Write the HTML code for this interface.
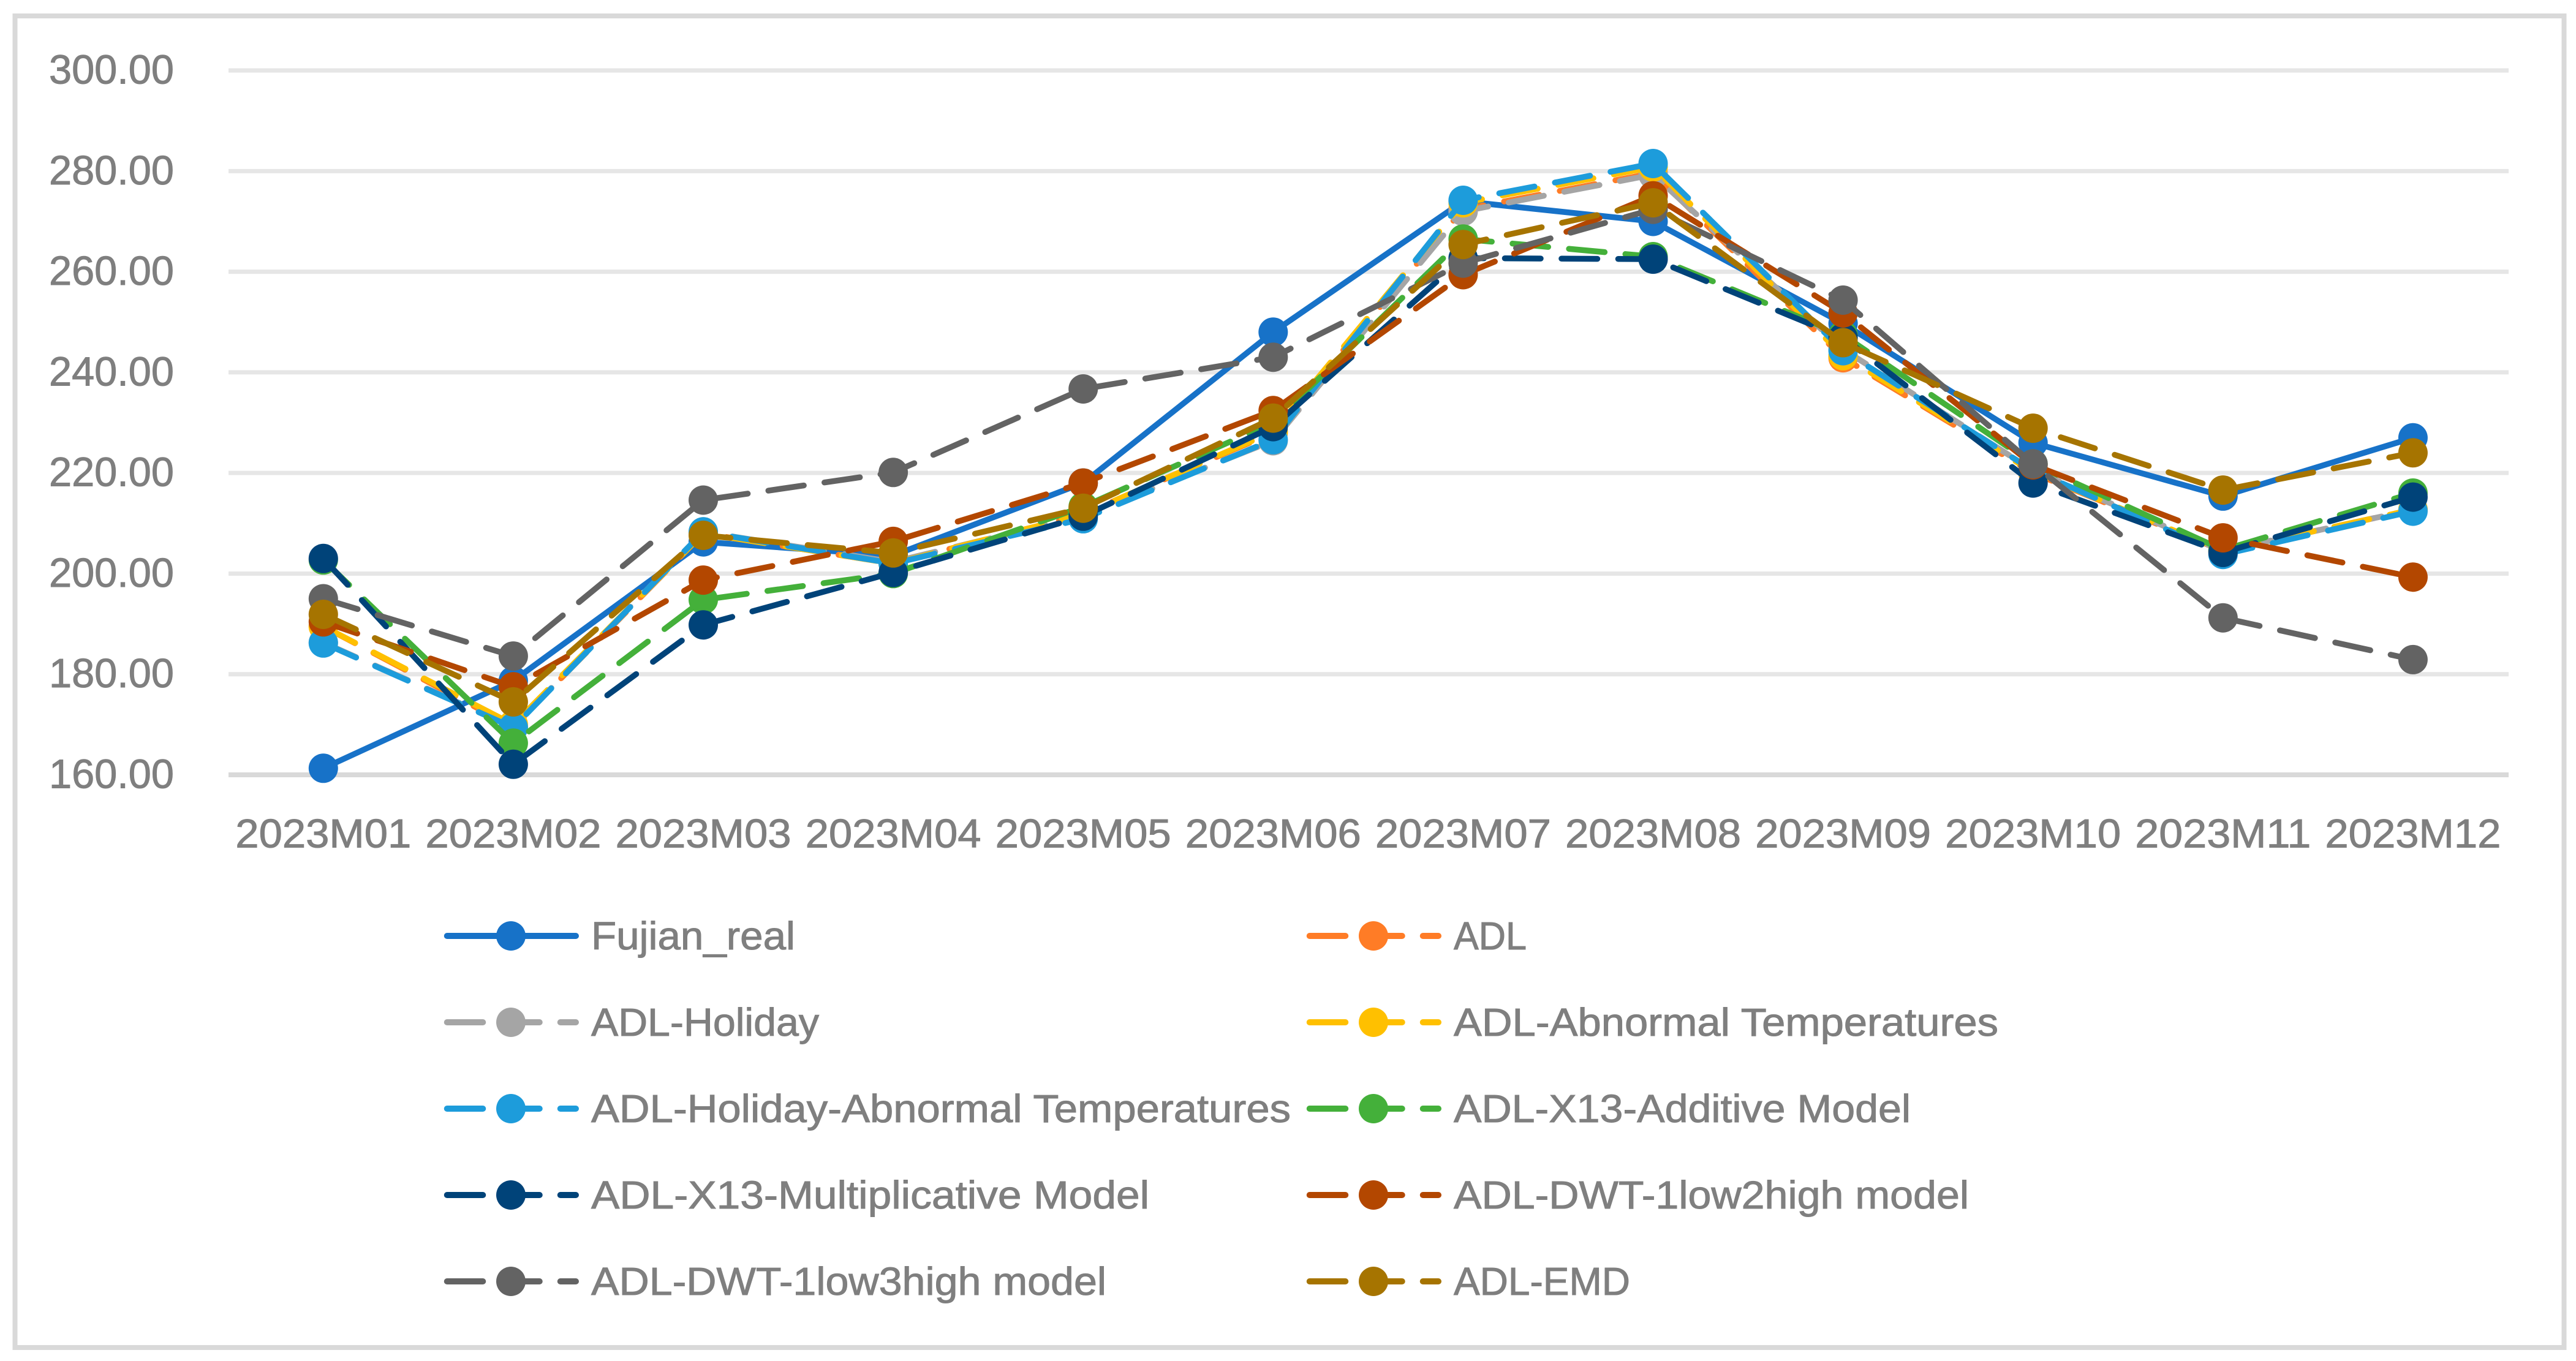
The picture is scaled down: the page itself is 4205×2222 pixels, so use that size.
<!DOCTYPE html>
<html lang="en">
<head>
<meta charset="utf-8">
<title>Fujian real vs ADL model forecasts, 2023</title>
<style>
html,body{margin:0;padding:0;background:#fff;}
svg{display:block;}
text{font-family:"Liberation Sans",Arial,sans-serif;fill:#7f7f7f;stroke:#7f7f7f;stroke-width:1;}
</style>
</head>
<body>
<svg id="chart" xmlns="http://www.w3.org/2000/svg" width="4205" height="2222" viewBox="0 0 4205 2222">
<rect x="0" y="0" width="4205" height="2222" fill="#fff"/>
<rect x="24.5" y="26" width="4161" height="2174" fill="#fff" stroke="#d9d9d9" stroke-width="8"/>
<g id="grid"></g>
<g id="yaxis"></g>
<g id="xaxis"></g>
<g id="plot"></g>
<g id="legend"></g>
</svg>
<script>
const categories = ["2023M01","2023M02","2023M03","2023M04","2023M05","2023M06","2023M07","2023M08","2023M09","2023M10","2023M11","2023M12"];
const yTicks = [160,180,200,220,240,260,280,300];
const fujianReal = [161.3,178.7,206.3,203.6,218.0,248.0,274.0,270.0,249.7,226.0,215.4,227.0];
const adl = [189.5,169.5,208.0,202.0,211.8,228.0,272.4,279.6,242.9,220.0,204.5,212.7];
const adlHoliday = [186.3,169.5,208.3,202.3,211.5,226.4,272.0,279.3,244.6,220.5,204.5,212.7];
const adlAbnormal = [189.5,170.0,208.0,202.0,211.8,228.2,273.7,280.8,243.3,220.2,204.5,212.7];
const adlHolidayAbnormal = [186.2,169.4,208.3,202.0,210.9,226.6,274.2,281.5,244.3,220.5,203.8,212.4];
const adlX13Additive = [202.7,166.3,194.8,200.0,213.3,230.0,266.5,263.0,247.4,221.8,204.7,216.0];
const adlX13Multiplicative = [203.0,162.1,189.8,200.2,211.4,229.2,262.7,262.5,246.9,218.0,204.2,215.2];
const adlDwt1low2high = [190.4,177.5,198.7,206.4,218.0,232.4,259.4,275.1,251.8,221.6,207.1,199.3];
const adlDwt1low3high = [195.0,183.6,214.6,220.1,236.7,243.0,261.7,272.4,254.35,221.8,191.2,182.9];
const adlEmd = [191.9,174.5,207.6,204.1,213.0,230.9,265.4,273.7,245.9,228.9,216.6,224.0];

const seriesList = [
  {label:"Fujian_real", key:"fujian-real", values:fujianReal, color:"#1772c8", dashed:false, col:0, row:0, width:333},
  {label:"ADL", key:"adl", values:adl, color:"#ff7c26", dashed:true, col:1, row:0, width:119},
  {label:"ADL-Holiday", key:"adl-holiday", values:adlHoliday, color:"#a5a5a5", dashed:true, col:0, row:1, width:372},
  {label:"ADL-Abnormal Temperatures", key:"adl-abnormal-temperatures", values:adlAbnormal, color:"#ffc000", dashed:true, col:1, row:1, width:889},
  {label:"ADL-Holiday-Abnormal Temperatures", key:"adl-holiday-abnormal-temperatures", values:adlHolidayAbnormal, color:"#1d9cdb", dashed:true, col:0, row:2, width:1142},
  {label:"ADL-X13-Additive Model", key:"adl-x13-additive", values:adlX13Additive, color:"#44b03a", dashed:true, col:1, row:2, width:746},
  {label:"ADL-X13-Multiplicative Model", key:"adl-x13-multiplicative", values:adlX13Multiplicative, color:"#004379", dashed:true, col:0, row:3, width:911},
  {label:"ADL-DWT-1low2high model", key:"adl-dwt-1low2high", values:adlDwt1low2high, color:"#b34700", dashed:true, col:1, row:3, width:841},
  {label:"ADL-DWT-1low3high model", key:"adl-dwt-1low3high", values:adlDwt1low3high, color:"#636363", dashed:true, col:0, row:4, width:841},
  {label:"ADL-EMD", key:"adl-emd", values:adlEmd, color:"#a67400", dashed:true, col:1, row:4, width:288}
];

const NS = "http://www.w3.org/2000/svg";
function xScale(i){ return 527.8 + i * 310.1; }
function yScale(v){ return 1265 - (v - 160) * 8.214; }
function mk(tag, attrs, parent){
  const el = document.createElementNS(NS, tag);
  for (const k in attrs) el.setAttribute(k, attrs[k]);
  parent.appendChild(el);
  return el;
}
const LINE_W = 9.5, DASH = "58.5 34", MARKER_R = 24;

/* gridlines + y labels */
const gridG = document.getElementById("grid");
const yG = document.getElementById("yaxis");
yTicks.forEach(function(t){
  const y = yScale(t);
  const ln = mk("line",{x1:373,x2:4095,y1:y,y2:y,stroke:t===160?"#d9d9d9":"#e6e6e6","stroke-width":t===160?8:7},gridG);
  
  
  const tx = mk("text",{x:80,y:y+21.5,"font-size":67,textLength:204,lengthAdjust:"spacingAndGlyphs"},yG);
  tx.textContent = t.toFixed(2);
  
  
});

/* x labels */
const xG = document.getElementById("xaxis");
categories.forEach(function(c,i){
  const tx = mk("text",{x:xScale(i)-143.5,y:1383.5,"font-size":66,textLength:287,lengthAdjust:"spacingAndGlyphs"},xG);
  tx.textContent = c;
  
  
});

/* series */
const plotG = document.getElementById("plot");
seriesList.forEach(function(s){
  const g = mk("g",{},plotG);
  
  
  const d = s.values.map(function(v,i){ return (i?"L":"M") + xScale(i).toFixed(1) + " " + yScale(v).toFixed(1); }).join(" ");
  const attrs = {d:d,fill:"none",stroke:s.color,"stroke-width":LINE_W,"stroke-linecap":"round","stroke-linejoin":"round"};
  if (s.dashed) attrs["stroke-dasharray"] = DASH;
  const path = mk("path",attrs,g);
  
  
  s.values.forEach(function(v,i){
    const c = mk("circle",{cx:xScale(i).toFixed(1),cy:yScale(v).toFixed(1),r:MARKER_R,fill:s.color},g);
    
    
  });
});

/* legend */
const legendG = document.getElementById("legend");
const colLine = [725, 2133];
const colText = [965, 2373];
seriesList.forEach(function(s){
  const g = mk("g",{},legendG);
  
  
  const y = 1528 + s.row * 141;
  const x0 = colLine[s.col];
  const attrs = {x1:x0+4.75,x2:x0+215,y1:y,y2:y,stroke:s.color,"stroke-width":10,"stroke-linecap":"round"};
  if (s.dashed) attrs["stroke-dasharray"] = DASH;
  const ln = mk("line",attrs,g);
  
  
  const c = mk("circle",{cx:x0+109,cy:y,r:MARKER_R,fill:s.color},g);
  
  
  const tx = mk("text",{x:colText[s.col],y:y+22,"font-size":64,textLength:s.width,lengthAdjust:"spacingAndGlyphs"},g);
  tx.textContent = s.label;
  
  
});
</script>
</body>
</html>
